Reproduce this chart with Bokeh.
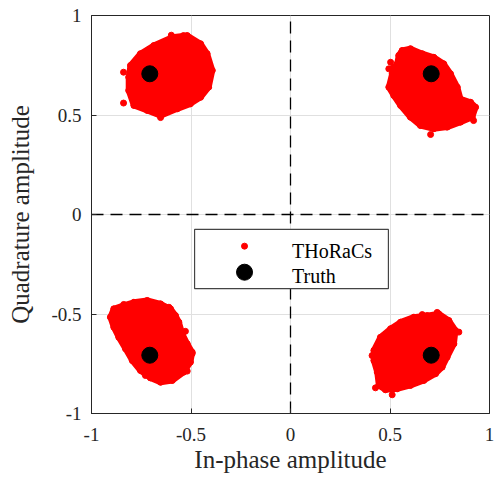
from bokeh.plotting import figure
from bokeh.models import FixedTicker, Range1d
from bokeh.core.properties import value
from bokeh.embed import file_html
from bokeh.resources import INLINE

# ---- data ----
# outlines of the dense received-symbol clouds (THoRaCs estimates)
tl_x = [-0.804, -0.754, -0.687, -0.594, -0.519, -0.452, -0.419, -0.393, -0.411, -0.452,
        -0.503, -0.569, -0.653, -0.720, -0.787, -0.813, -0.813]
tl_y = [0.749, 0.808, 0.849, 0.891, 0.899, 0.858, 0.808, 0.724, 0.640, 0.589,
        0.556, 0.531, 0.497, 0.523, 0.548, 0.623, 0.690]
tr_x = [0.561, 0.603, 0.662, 0.720, 0.770, 0.804, 0.838, 0.854, 0.905, 0.930, 0.913,
        0.854, 0.787, 0.720, 0.653, 0.603, 0.553, 0.519, 0.494, 0.511, 0.536, 0.544]
tr_y = [0.824, 0.833, 0.808, 0.790, 0.757, 0.707, 0.640, 0.581, 0.564, 0.539, 0.489,
        0.464, 0.439, 0.431, 0.447, 0.489, 0.548, 0.598, 0.640, 0.707, 0.757, 0.799]
bl_x = [-0.888, -0.838, -0.787, -0.720, -0.653, -0.603, -0.578, -0.561, -0.544, -0.519, -0.494,
        -0.503, -0.536, -0.594, -0.653, -0.704, -0.754, -0.795, -0.829, -0.863, -0.888, -0.905]
bl_y = [-0.474, -0.457, -0.441, -0.432, -0.449, -0.474, -0.508, -0.541, -0.600, -0.650, -0.692,
        -0.742, -0.792, -0.834, -0.843, -0.821, -0.784, -0.734, -0.675, -0.617, -0.566, -0.516]
br_x = [0.452, 0.503, 0.553, 0.620, 0.687, 0.745, 0.796, 0.829, 0.821, 0.787,
        0.762, 0.729, 0.670, 0.603, 0.536, 0.477, 0.444, 0.436, 0.419, 0.419]
br_y = [-0.617, -0.574, -0.541, -0.516, -0.508, -0.499, -0.533, -0.583, -0.650, -0.717,
        -0.767, -0.800, -0.834, -0.859, -0.876, -0.881, -0.859, -0.792, -0.734, -0.683]
# isolated estimates outside the clouds
out_x = [-0.839, -0.839, -0.749, -0.653, -0.599, -0.538,
         0.503, 0.494, 0.519, 0.704, 0.920,
         -0.838, -0.611, -0.528, -0.494, -0.519, -0.729,
         0.410, 0.427, 0.511, 0.662, 0.737, 0.846, 0.469]
out_y = [0.715, 0.560, 0.791, 0.487, 0.901, 0.899,
         0.765, 0.732, 0.741, 0.402, 0.472,
         -0.452, -0.466, -0.587, -0.699, -0.787, -0.809,
         -0.709, -0.871, -0.906, -0.503, -0.492, -0.591, -0.608]
# true QPSK symbols
truth_x = [-0.7071, 0.7071, -0.7071, 0.7071]
truth_y = [0.7071, 0.7071, -0.7071, -0.7071]

ticks = [-1, -0.5, 0, 0.5, 1]
tick_labels = ["-1", "-0.5", "0", "0.5", "1"]
zero_span = [-1, 1]
zero_pos = [0, 0]

FONT = "Liberation Serif"
AX = "#262626"

p = figure(width=494, height=479, output_backend="svg", toolbar_location=None,
           x_range=Range1d(-1, 1), y_range=Range1d(-1, 1),
           min_border_left=91, min_border_right=5, min_border_top=15, min_border_bottom=66)
p.background_fill_color = "white"
p.border_fill_color = "white"
p.outline_line_color = AX
p.outline_line_width = 1

overrides = {t: l for t, l in zip(ticks, tick_labels)}
for ax in (p.xaxis[0], p.yaxis[0]):
    ax.ticker = FixedTicker(ticks=ticks)
    ax.major_label_overrides = overrides
    ax.major_label_text_font = FONT
    ax.major_label_text_font_size = "19px"
    ax.major_label_text_color = AX
    ax.axis_label_text_font = FONT
    ax.axis_label_text_font_size = "25px"
    ax.axis_label_text_font_style = "normal"
    ax.axis_label_text_color = AX
    ax.axis_line_color = AX
    ax.major_tick_in = 5
    ax.major_tick_out = 0
    ax.major_tick_line_color = AX
    ax.minor_tick_line_color = None

p.xaxis.axis_label = "In-phase amplitude"
p.yaxis.axis_label = "Quadrature amplitude"
p.xaxis.major_label_standoff = 14
p.yaxis.major_label_standoff = 10
p.xaxis.axis_label_standoff = 2
p.yaxis.axis_label_standoff = 14

p.xgrid.ticker = FixedTicker(ticks=ticks)
p.ygrid.ticker = FixedTicker(ticks=ticks)
p.xgrid.grid_line_color = "#e0e0e0"
p.ygrid.grid_line_color = "#e0e0e0"

# dashed zero lines
p.line(zero_pos, zero_span, line_color="black", line_width=1.3, line_dash="12 7")
p.line(zero_span, zero_pos, line_color="black", line_width=1.3, line_dash="12 7")

# estimate clouds
p.patches(xs=[tl_x, tr_x, bl_x, br_x], ys=[tl_y, tr_y, bl_y, br_y],
          fill_color="red", line_color="red", line_width=6, line_join="round")
p.scatter(tl_x + tr_x + bl_x + br_x + out_x, tl_y + tr_y + bl_y + br_y + out_y,
          size=6, fill_color="red", line_color="red")

# truth
p.scatter(truth_x, truth_y, size=16, fill_color="black", line_color="black")

# legend box (drawn manually to reproduce marker sizes)
p.quad(left=[-0.482], right=[0.492], top=[-0.075], bottom=[-0.372],
       fill_color="white", line_color="#444444", line_width=1.2)
p.scatter([-0.231], [-0.159], size=6, fill_color="red", line_color="red")
p.scatter([-0.231], [-0.290], size=16, fill_color="black", line_color="black")
p.text(x=[0.008, 0.008], y=[-0.181, -0.307], text=["THoRaCs", "Truth"],
       text_font=value(FONT), text_font_size="20px", text_baseline="alphabetic",
       text_align="left", text_color="black")

open("out.html", "w").write(file_html(p, INLINE))
